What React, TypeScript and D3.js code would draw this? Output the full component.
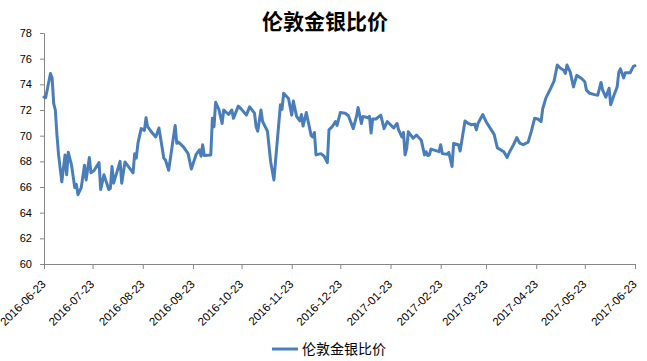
import React, { useRef, useEffect } from 'react';
import * as d3 from 'd3';

const title = '伦敦金银比价';
const seriesName = '伦敦金银比价';

const dates = [
  '2016-06-23', '2016-06-24', '2016-06-27', '2016-06-28', '2016-06-29', '2016-06-30', '2016-07-01', '2016-07-02',
  '2016-07-04', '2016-07-06', '2016-07-07', '2016-07-08', '2016-07-10', '2016-07-12', '2016-07-13', '2016-07-14',
  '2016-07-16', '2016-07-18', '2016-07-19', '2016-07-21', '2016-07-22', '2016-07-24', '2016-07-27', '2016-07-28',
  '2016-07-30', '2016-08-01', '2016-08-02', '2016-08-03', '2016-08-04', '2016-08-05', '2016-08-09', '2016-08-10',
  '2016-08-12', '2016-08-17', '2016-08-18', '2016-08-19', '2016-08-20', '2016-08-22', '2016-08-24', '2016-08-25',
  '2016-08-26', '2016-08-28', '2016-08-31', '2016-09-02', '2016-09-05', '2016-09-06', '2016-09-08', '2016-09-12',
  '2016-09-13', '2016-09-14', '2016-09-17', '2016-09-20', '2016-09-22', '2016-09-25', '2016-09-27', '2016-09-28',
  '2016-09-29', '2016-09-30', '2016-10-04', '2016-10-05', '2016-10-06', '2016-10-07', '2016-10-09', '2016-10-11',
  '2016-10-12', '2016-10-15', '2016-10-17', '2016-10-18', '2016-10-21', '2016-10-23', '2016-10-26', '2016-10-28',
  '2016-10-31', '2016-11-01', '2016-11-02', '2016-11-04', '2016-11-05', '2016-11-08', '2016-11-10', '2016-11-12',
  '2016-11-16', '2016-11-17', '2016-11-18', '2016-11-21', '2016-11-23', '2016-11-24', '2016-11-26', '2016-11-28',
  '2016-11-29', '2016-11-30', '2016-12-02', '2016-12-05', '2016-12-06', '2016-12-07', '2016-12-08', '2016-12-11',
  '2016-12-13', '2016-12-15', '2016-12-16', '2016-12-18', '2016-12-20', '2016-12-21', '2016-12-23', '2016-12-26',
  '2016-12-28', '2016-12-31', '2017-01-02', '2017-01-03', '2017-01-05', '2017-01-06', '2017-01-09', '2017-01-10',
  '2017-01-11', '2017-01-12', '2017-01-14', '2017-01-17', '2017-01-19', '2017-01-21', '2017-01-23', '2017-01-25',
  '2017-01-27', '2017-01-28', '2017-01-30', '2017-01-31', '2017-02-01', '2017-02-02', '2017-02-03', '2017-02-06',
  '2017-02-08', '2017-02-11', '2017-02-13', '2017-02-14', '2017-02-15', '2017-02-16', '2017-02-17', '2017-02-21',
  '2017-02-22', '2017-02-23', '2017-02-24', '2017-02-27', '2017-02-28', '2017-03-02', '2017-03-03', '2017-03-06',
  '2017-03-07', '2017-03-10', '2017-03-12', '2017-03-14', '2017-03-16', '2017-03-17', '2017-03-18', '2017-03-21',
  '2017-03-23', '2017-03-24', '2017-03-28', '2017-03-30', '2017-04-03', '2017-04-05', '2017-04-06', '2017-04-09',
  '2017-04-11', '2017-04-12', '2017-04-13', '2017-04-15', '2017-04-18', '2017-04-20', '2017-04-22', '2017-04-24',
  '2017-04-26', '2017-04-27', '2017-04-29', '2017-05-02', '2017-05-04', '2017-05-06', '2017-05-08', '2017-05-10',
  '2017-05-11', '2017-05-12', '2017-05-14', '2017-05-16', '2017-05-18', '2017-05-21', '2017-05-23', '2017-05-24',
  '2017-05-26', '2017-05-29', '2017-05-31', '2017-06-02', '2017-06-03', '2017-06-05', '2017-06-07', '2017-06-08',
  '2017-06-10', '2017-06-12', '2017-06-13', '2017-06-14', '2017-06-16', '2017-06-17', '2017-06-20', '2017-06-22',
  '2017-06-23',
];

const ratios = [
  73.0, 72.95, 74.84, 74.5, 72.5, 72.0, 70.05, 68.5,
  66.4, 68.5, 66.95, 68.7, 67.7, 65.95, 66.2, 65.4,
  65.95, 67.7, 66.55, 68.3, 67.1, 67.3, 67.9, 65.8,
  66.95, 66.2, 65.8, 65.9, 67.6, 66.3, 68.0, 66.3,
  67.95, 67.1, 68.6, 68.25, 69.4, 70.55, 70.4, 71.4,
  70.7, 70.35, 69.9, 70.6, 68.25, 68.1, 67.3, 70.8,
  69.4, 69.5, 69.15, 68.6, 67.4, 68.55, 68.9, 68.4,
  69.3, 68.45, 68.5, 71.35, 70.7, 72.6, 72.05, 70.95,
  72.0, 71.65, 72.0, 71.35, 72.3, 72.05, 71.6, 72.25,
  71.75, 70.7, 70.35, 72.0, 71.1, 70.35, 67.95, 66.55,
  72.4, 72.05, 73.3, 72.9, 71.6, 72.7, 71.5, 71.15,
  71.65, 70.75, 71.8, 70.0, 69.9, 70.25, 68.5, 68.6,
  68.4, 67.9, 70.45, 70.7, 71.1, 70.8, 71.8, 71.75,
  71.55, 70.55, 71.5, 72.2, 70.95, 71.5, 71.4, 71.5,
  70.2, 71.3, 71.3, 71.6, 70.55, 71.1, 70.85, 70.6,
  70.95, 70.45, 69.9, 70.25, 68.5, 69.0, 70.3, 69.8,
  70.05, 69.65, 68.5, 68.75, 68.45, 68.5, 68.95, 68.8,
  68.75, 69.3, 68.6, 68.55, 68.7, 67.6, 69.4, 69.3,
  68.8, 71.15, 70.95, 70.85, 70.9, 70.45, 70.95, 71.65,
  71.1, 70.9, 70.1, 69.05, 68.75, 68.3, 68.6, 69.3,
  69.85, 69.6, 69.4, 69.3, 69.5, 70.35, 71.35, 71.3,
  71.1, 72.1, 72.95, 73.7, 74.25, 75.5, 75.25, 75.1,
  74.85, 75.5, 74.95, 73.8, 74.7, 74.45, 74.2, 73.55,
  73.3, 73.2, 73.15, 74.15, 73.55, 73.0, 73.7, 72.4,
  73.15, 73.8, 74.95, 75.2, 74.5, 74.9, 74.9, 75.4,
  75.45,
];

const xTickLabels = [
  '2016-06-23', '2016-07-23', '2016-08-23', '2016-09-23', '2016-10-23', '2016-11-23', '2016-12-23',
  '2017-01-23', '2017-02-23', '2017-03-23', '2017-04-23', '2017-05-23', '2017-06-23',
];
const yTicks = [60, 62, 64, 66, 68, 70, 72, 74, 76, 78];

const LINE_COLOR = '#4a7ebb';
const AXIS_COLOR = '#868686';
const FONT = '"Liberation Sans", Arial, "Noto Sans CJK SC", sans-serif';

const App = () => {
  const svgRef = useRef(null);

  useEffect(() => {
    if (!svgRef.current) return;
    const width = 647;
    const height = 361;
    const margin = { top: 33, right: 12, bottom: 97, left: 44 };

    const svg = d3.select(svgRef.current);
    svg.selectAll('*').remove();

    const parse = d3.timeParse('%Y-%m-%d');
    const data = dates.map((d, i) => ({ date: parse(d), value: ratios[i] }));
    const tickDates = xTickLabels.map(d => parse(d));

    const innerW = width - margin.left - margin.right;
    const innerH = height - margin.top - margin.bottom;

    const x = d3.scaleTime()
      .domain([tickDates[0], tickDates[tickDates.length - 1]])
      .range([0, innerW]);
    const y = d3.scaleLinear().domain([60, 78]).range([innerH, 0]);

    svg.append('rect').attr('width', width).attr('height', height).attr('fill', '#fff');

    svg.append('text')
      .attr('x', 325)
      .attr('y', 29)
      .attr('text-anchor', 'middle')
      .attr('font-family', '"Noto Sans CJK SC", sans-serif')
      .attr('font-weight', 'bold')
      .attr('font-size', 21)
      .attr('fill', '#000')
      .text(title);

    const g = svg.append('g').attr('transform', `translate(${margin.left},${margin.top})`);

    // y axis
    const yAxis = g.append('g')
      .call(d3.axisLeft(y).tickValues(yTicks).tickSize(4).tickPadding(8).tickFormat(d3.format('d')));
    yAxis.select('.domain').attr('stroke', AXIS_COLOR);
    yAxis.selectAll('line').attr('stroke', AXIS_COLOR);
    yAxis.selectAll('text')
      .attr('font-family', FONT)
      .attr('font-size', 11)
      .attr('fill', '#000');

    // x axis, labels turned 45 degrees and ending just under each tick
    const xAxis = g.append('g')
      .attr('transform', `translate(0,${innerH})`)
      .call(d3.axisBottom(x).tickValues(tickDates).tickSize(5).tickFormat((d, i) => xTickLabels[i]));
    xAxis.select('.domain').attr('stroke', AXIS_COLOR);
    xAxis.selectAll('line').attr('stroke', AXIS_COLOR);
    xAxis.selectAll('text')
      .attr('font-family', FONT)
      .attr('font-size', 11.5)
      .attr('fill', '#000')
      .attr('text-anchor', 'end')
      .attr('y', 0)
      .attr('dy', 0)
      .attr('transform', 'translate(2,21) rotate(-45)');

    const line = d3.line()
      .x(d => x(d.date))
      .y(d => y(d.value));

    g.append('path')
      .datum(data)
      .attr('fill', 'none')
      .attr('stroke', LINE_COLOR)
      .attr('stroke-width', 3)
      .attr('stroke-linejoin', 'round')
      .attr('stroke-linecap', 'round')
      .attr('d', line);

    // legend
    const legend = svg.append('g').attr('transform', 'translate(272,349)');
    legend.append('line')
      .attr('x1', 0).attr('x2', 26)
      .attr('stroke', LINE_COLOR)
      .attr('stroke-width', 3);
    legend.append('text')
      .attr('x', 30)
      .attr('y', 0)
      .attr('dy', '0.35em')
      .attr('font-family', '"Noto Sans CJK SC", sans-serif')
      .attr('font-size', 14)
      .attr('fill', '#000')
      .text(seriesName);
  }, []);

  return (
    <svg
      ref={svgRef}
      width={647}
      height={361}
      style={{ position: 'absolute', left: 0, top: 0 }}
    />
  );
};

export default App;
